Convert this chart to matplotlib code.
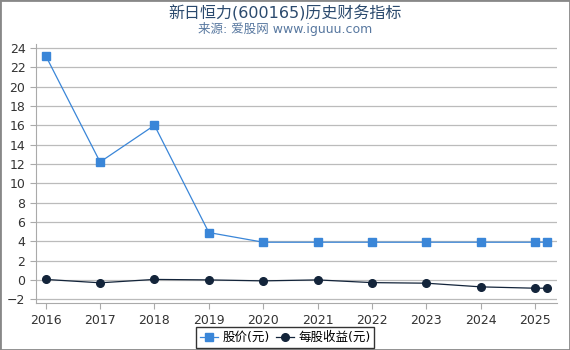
import matplotlib
matplotlib.use("Agg")
import matplotlib.pyplot as plt

plt.rcParams['font.family'] = ['DejaVu Sans', 'Noto Sans CJK SC']

years = [2016, 2017, 2018, 2019, 2020, 2021, 2022, 2023, 2024, 2025, 2025.22]
price = [23.2, 12.2, 16.0, 4.9, 3.9, 3.9, 3.9, 3.9, 3.9, 3.9, 3.9]
eps = [0.05, -0.3, 0.05, 0.0, -0.1, 0.0, -0.28, -0.34, -0.72, -0.86, -0.86]
xticks = [2016, 2017, 2018, 2019, 2020, 2021, 2022, 2023, 2024, 2025]
yticks = list(range(-2, 25, 2))

fig = plt.figure(figsize=(5.7, 3.5), dpi=100)
ax = fig.add_axes([0.063, 0.134, 0.914, 0.74])

ax.plot(years, price, color='#3a86d8', lw=0.9, marker='s', ms=5.5,
        mfc='#3a86d8', mec='#3a86d8', label='股价(元)', zorder=3)
ax.plot(years, eps, color='#13243a', lw=0.9, marker='o', ms=5.5,
        mfc='#13243a', mec='#13243a', label='每股收益(元)', zorder=3)

ax.set_xlim(2015.82, 2025.4)
ax.set_ylim(-2.4, 24.4)
ax.set_xticks(xticks)
ax.set_xticklabels([str(x) for x in xticks])
ax.set_yticks(yticks)
ax.yaxis.grid(True, color='#bbbbbb', lw=0.9)
ax.set_axisbelow(True)
for s in ['top', 'right']:
    ax.spines[s].set_visible(False)
for s in ['left', 'bottom']:
    ax.spines[s].set_color('#aaaaaa')
ax.tick_params(axis='both', colors='#aaaaaa', labelcolor='#333333', labelsize=9, length=4)

fig.text(0.5, 0.962, '新日恒力(600165)历史财务指标', ha='center', va='center',
         fontsize=11.5, color='#2b4a6e')
fig.text(0.5, 0.918, '来源: 爱股网 www.iguuu.com', ha='center', va='center',
         fontsize=9, color='#5878a0')

leg = fig.legend(loc='lower center', bbox_to_anchor=(0.5, -0.012), ncol=2,
                 frameon=True, fontsize=9, handlelength=1.5, columnspacing=0.5,
                 handletextpad=0.3, borderpad=0.3, fancybox=False)
leg.get_frame().set_edgecolor('black')
leg.get_frame().set_linewidth(1.0)

border = plt.Rectangle((0, 0), 1, 1, transform=fig.transFigure, fill=False,
                       edgecolor='#888888', lw=2)
fig.patches.append(border)

fig.savefig('out.png', dpi=100)
